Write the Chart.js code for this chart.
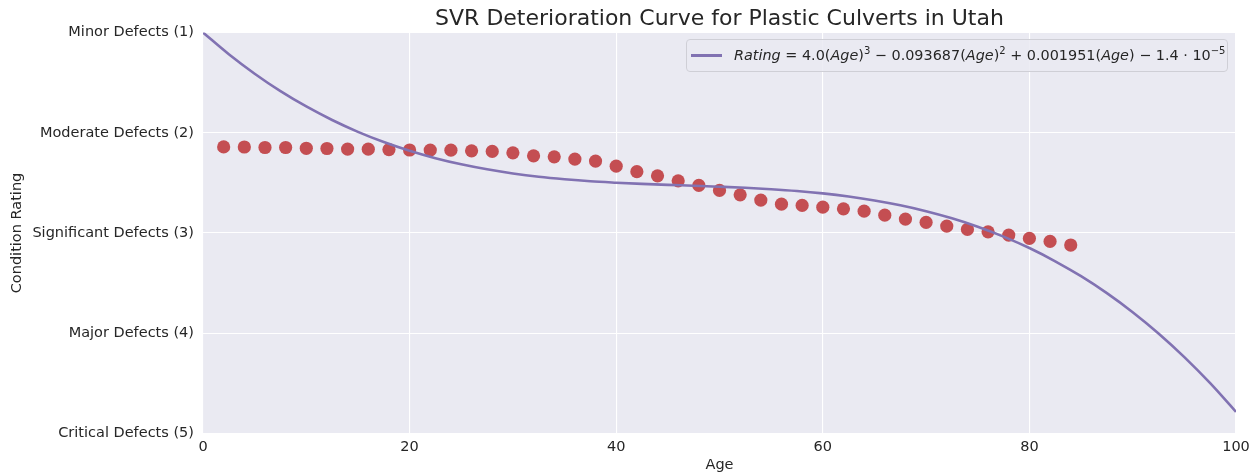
<!DOCTYPE html>
<html>
<head>
<meta charset="utf-8">
<script src="https://cdn.jsdelivr.net/npm/chart.js@4.4.1/dist/chart.umd.min.js"></script>
<style>
html,body{margin:0;padding:0;background:#ffffff;}
#wrap{position:relative;width:1258px;height:476px;}
#legend{position:absolute;left:686px;top:39px;width:542px;height:33px;box-sizing:border-box;border:1px solid #cfcfd6;border-radius:4px;background:rgba(234,234,242,0.85);font-family:"DejaVu Sans",sans-serif;font-size:14.4px;color:#262626;display:flex;align-items:center;white-space:nowrap;line-height:1;}
#legend .swatch{display:inline-block;width:31px;height:2.6px;background:#8172B2;margin-left:4px;margin-right:12px;}
#legend i{font-style:italic;}
#legend sup{font-size:10px;vertical-align:6px;line-height:0;}
</style>
</head>
<body>
<div id="wrap">
<canvas id="c" width="1258" height="476"></canvas>
<div id="legend"><span class="swatch"></span><span><i>Rating</i> = 4.0(<i>Age</i>)<sup>3</sup> − 0.093687(<i>Age</i>)<sup>2</sup> + 0.001951(<i>Age</i>) − 1.4 · 10<sup>−5</sup></span></div>
</div>
<script>
// Observed condition ratings (scatter)
const obsAges = [2,4,6,8,10,12,14,16,18,20,22,24,26,28,30,32,34,36,38,40,42,44,46,48,50,52,54,56,58,60,62,64,66,68,70,72,74,76,78,80,82,84];
const obsRatings = [2.141,2.142,2.147,2.147,2.155,2.157,2.163,2.164,2.168,2.172,2.173,2.174,2.180,2.186,2.200,2.230,2.240,2.263,2.283,2.333,2.388,2.430,2.480,2.525,2.575,2.619,2.672,2.712,2.725,2.742,2.759,2.782,2.822,2.861,2.894,2.931,2.964,2.988,3.021,3.054,3.084,3.120];

// Fitted deterioration curve
const curveAges = [0,2.5,5,7.5,10,12.5,15,17.5,20,22.5,25,27.5,30,32.5,35,37.5,40,42.5,45,47.5,50,52.5,55,57.5,60,62.5,65,67.5,70,72.5,75,77.5,80,82.5,85,87.5,90,92.5,95,97.5,100];
const curveRatings = [1.000,1.217,1.411,1.585,1.738,1.873,1.991,2.093,2.180,2.254,2.315,2.365,2.406,2.439,2.464,2.484,2.498,2.510,2.520,2.528,2.538,2.549,2.563,2.581,2.605,2.636,2.675,2.723,2.782,2.853,2.937,3.036,3.150,3.282,3.431,3.600,3.790,4.002,4.238,4.498,4.784];

// Tick labels
const ratingLabels = ["Minor Defects (1)","Moderate Defects (2)","Significant Defects (3)","Major Defects (4)","Critical Defects (5)"];
const xTicks = [0,20,40,60,80,100];

const titleText = "SVR Deterioration Curve for Plastic Culverts in Utah";
const FONT = '"DejaVu Sans", sans-serif';
const TXT = '#262626';

const bgPlugin = {
  id: 'bg',
  beforeDraw(chart) {
    const {ctx, chartArea: a} = chart;
    ctx.save();
    ctx.fillStyle = '#EAEAF2';
    ctx.fillRect(a.left, a.top, a.right - a.left, a.bottom - a.top);
    ctx.restore();
  },
  afterDraw(chart) {
    const {ctx, chartArea: a} = chart;
    ctx.save();
    ctx.font = '22px ' + FONT;
    ctx.fillStyle = TXT;
    ctx.textAlign = 'center';
    ctx.textBaseline = 'middle';
    ctx.fillText(titleText, (a.left + a.right) / 2, 19);
    ctx.restore();
  }
};

new Chart(document.getElementById('c'), {
  type: 'scatter',
  data: {
    datasets: [
      {
        type: 'line',
        label: 'curve',
        data: curveAges.map((a, i) => ({x: a, y: curveRatings[i]})),
        borderColor: '#8172B2',
        borderWidth: 2.6,
        pointRadius: 0,
        fill: false,
        cubicInterpolationMode: 'monotone',
        order: 0
      },
      {
        label: 'observed',
        data: obsAges.map((a, i) => ({x: a, y: obsRatings[i]})),
        backgroundColor: '#C44E52',
        borderWidth: 0,
        pointRadius: 6.6,
        pointHoverRadius: 6.6,
        order: 1
      }
    ]
  },
  options: {
    responsive: false,
    animation: false,
    devicePixelRatio: 1,
    layout: {padding: {top: 32.5, right: 22, left: 0, bottom: 0}},
    plugins: {
      legend: {display: false},
      tooltip: {enabled: false},
      title: {display: false}
    },
    scales: {
      x: {
        type: 'linear',
        min: 0, max: 100,
        afterBuildTicks: s => { s.ticks = xTicks.map(v => ({value: v})); },
        ticks: {font: {family: FONT, size: 14.5}, color: TXT, padding: 5},
        grid: {color: '#ffffff', lineWidth: 1.1, drawTicks: false},
        border: {display: false},
        title: {display: true, text: 'Age', font: {family: FONT, size: 14.5}, color: TXT, padding: {top: 0, bottom: 2}},
        afterFit: s => { s.height = 42.5; }
      },
      y: {
        type: 'linear',
        reverse: true,
        min: 1, max: 5,
        afterBuildTicks: s => { s.ticks = ratingLabels.map((l, i) => ({value: i + 1})); },
        ticks: {
          font: {family: FONT, size: 14.5}, color: TXT, padding: 9,
          callback: v => ratingLabels[Math.round(v) - 1]
        },
        grid: {color: '#ffffff', lineWidth: 1.1, drawTicks: false},
        border: {display: false},
        title: {display: true, text: 'Condition Rating', font: {family: FONT, size: 14.5}, color: TXT, padding: {top: 9, bottom: 0}},
        afterFit: s => { s.width = 203; }
      }
    }
  },
  plugins: [bgPlugin]
});
</script>
</body>
</html>
